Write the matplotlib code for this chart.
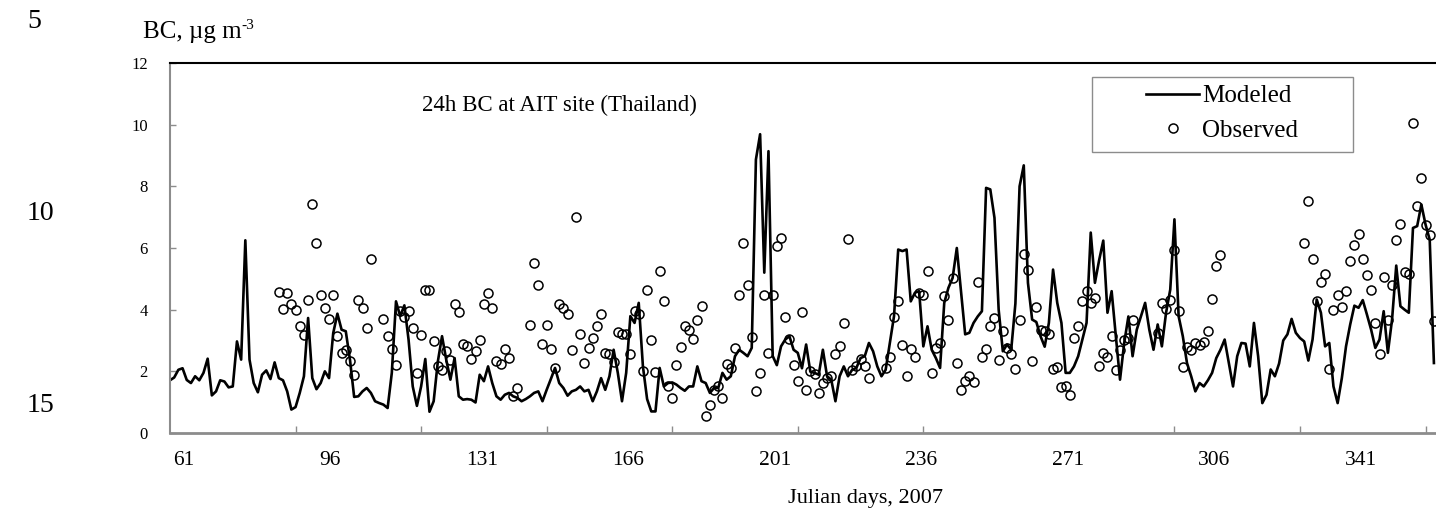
import matplotlib
matplotlib.use('Agg')
import matplotlib.pyplot as plt
from matplotlib.patches import Rectangle
from matplotlib.transforms import ScaledTranslation
import numpy as np

plt.rcParams['font.family'] = ['Liberation Serif', 'DejaVu Serif']

# modeled 24h BC, one value per Julian day starting at day 61
modeled = [
    1.71, 1.80, 2.05, 2.10, 1.72, 1.62, 1.84, 1.71, 1.95, 2.41,   # 61-70
    1.22, 1.35, 1.71, 1.67, 1.48, 1.51, 2.97, 2.38, 6.25, 2.38,   # 71-80
    1.62, 1.32, 1.89, 2.03, 1.75, 2.29, 1.78, 1.71, 1.35, 0.76,   # 81-90
    0.84, 1.30, 1.84, 3.73, 1.78, 1.42, 1.62, 2.00, 1.78, 3.24,   # 91-100
    3.87, 3.35, 3.30, 2.38, 1.17, 1.19, 1.35, 1.46, 1.30, 1.03,   # 101-110
    0.97, 0.92, 0.81, 1.95, 4.27, 3.79, 4.14, 3.03, 1.51, 0.88,   # 111-120
    1.51, 2.40, 0.69, 1.03, 2.32, 3.14, 2.38, 1.73, 2.43, 1.19,   # 121-130
    1.08, 1.10, 1.08, 0.99, 1.89, 1.68, 2.16, 1.62, 1.19, 1.08,   # 131-140
    1.24, 1.30, 1.19, 1.14, 1.03, 1.10, 1.19, 1.30, 1.35, 1.03,   # 141-150
    1.40, 1.75, 2.11, 1.62, 1.46, 1.21, 1.35, 1.40, 1.51, 1.35,   # 151-160
    1.40, 1.03, 1.35, 1.78, 1.40, 1.84, 2.70, 1.95, 1.03, 1.95,   # 161-170
    3.79, 3.57, 4.22, 2.16, 1.10, 0.70, 0.70, 2.11, 1.51, 1.62,   # 171-180
    1.64, 1.57, 1.46, 1.37, 1.51, 1.51, 2.16, 1.68, 1.62, 1.30,   # 181-190
    1.46, 1.46, 1.95, 1.73, 1.84, 2.49, 2.70, 2.60, 2.49, 2.76,   # 191-200
    8.87, 9.69, 5.20, 9.14, 2.50, 2.20, 2.81, 3.03, 3.14, 2.70,   # 201-210
    2.60, 2.10, 2.87, 1.99, 1.95, 1.89, 2.70, 1.84, 1.73, 1.03,   # 211-220
    1.84, 2.16, 1.84, 2.05, 2.11, 2.43, 2.49, 2.92, 2.65, 2.16,   # 221-230
    1.84, 2.05, 2.92, 3.79, 5.95, 5.90, 5.95, 4.27, 4.55, 4.60,   # 231-240
    2.81, 3.46, 2.70, 2.43, 2.11, 4.22, 4.71, 5.03, 6.00, 4.60,   # 241-250
    3.20, 3.25, 3.57, 3.78, 3.95, 7.95, 7.90, 6.98, 4.00, 2.65,   # 251-260
    2.87, 2.70, 4.20, 8.00, 8.68, 4.87, 3.68, 3.60, 3.14, 2.80,   # 261-270
    3.57, 5.30, 4.22, 3.57, 1.95, 1.95, 2.16, 2.49, 3.03, 3.57,   # 271-280
    6.50, 4.87, 5.60, 6.24, 3.90, 4.60, 3.14, 1.73, 2.92, 3.78,   # 281-290
    2.49, 3.35, 3.79, 4.22, 3.35, 2.70, 3.52, 2.81, 3.90, 4.65,   # 291-300
    6.93, 3.79, 3.14, 2.27, 1.84, 1.35, 1.62, 1.51, 1.71, 1.95,   # 301-310
    2.43, 2.70, 3.03, 2.27, 1.51, 2.49, 2.92, 2.90, 2.16, 3.57,   # 311-320
    2.49, 0.97, 1.24, 2.06, 1.84, 2.25, 3.00, 3.20, 3.70, 3.25,   # 321-330
    3.08, 2.97, 2.35, 3.03, 4.33, 3.90, 2.81, 2.92, 1.51, 0.97,   # 331-340
    1.78, 2.81, 3.52, 4.13, 4.06, 4.31, 3.84, 3.35, 2.76, 3.03,   # 341-350
    3.95, 2.60, 3.68, 5.43, 4.11, 4.00, 3.90, 6.65, 6.71, 7.41,   # 351-360
    6.76, 6.27, 2.27,                                             # 361-363
]

# observed 24h BC (days with measurements)
obs_days = [*range(87, 110), *range(112, 145), *range(147, 229),
            *range(232, 292), *range(297, 313), *range(332, 364)]
obs_vals = [
    # 87-109
    4.57, 4.02, 4.54, 4.19, 3.98, 3.46, 3.17, 4.30, 7.43, 6.15, 4.49, 4.06, 3.70, 4.46, 3.14, 2.60,
    2.70, 2.35, 1.89, 4.30, 4.04, 3.41, 5.63,
    # 112-144
    3.70, 3.14, 2.74, 2.20, 3.95, 3.75, 3.95, 3.41, 1.95, 3.19,
    4.65, 4.65, 2.97, 2.18, 2.03, 2.67, 2.38, 4.20, 3.93, 2.89,
    2.81, 2.41, 2.65, 3.03, 4.20, 4.54, 4.04, 2.32, 2.25, 2.74,
    2.43, 1.21, 1.46,
    # 147-228
    3.49, 5.50, 4.81, 2.89, 3.49, 2.72, 2.11, 4.20, 4.06, 3.87,
    2.68, 7.00, 3.21, 2.27, 2.76, 3.08, 3.46, 3.87, 2.60, 2.57,
    2.30, 3.28, 3.22, 3.22, 2.56, 3.95, 3.87, 2.00, 4.63, 3.01,
    1.98, 5.27, 4.27, 1.51, 1.14, 2.22, 2.79, 3.46, 3.35, 3.06,
    3.66, 4.13, 0.56, 0.92, 1.41, 1.51, 1.14, 2.25, 2.11, 2.76,
    4.46, 6.17, 4.79, 3.12, 1.37, 1.95, 4.46, 2.60, 4.47, 6.08,
    6.31, 3.77, 3.05, 2.20, 1.68, 3.92, 1.41, 2.00, 1.91, 1.30,
    1.62, 1.78, 1.86, 2.56, 2.83, 3.57, 6.30, 2.05, 2.16, 2.40,
    2.16, 1.78,
    # 232-291
    2.11, 2.45, 3.76, 4.27, 2.87, 1.84, 2.73, 2.47, 4.54, 4.49,
    5.25, 1.93, 2.76, 2.92, 4.44, 3.65, 5.03, 2.27, 1.41, 1.68,
    1.84, 1.64, 4.90, 2.47, 2.74, 3.46, 3.73, 2.38, 3.30, 2.76,
    2.56, 2.08, 3.68, 5.79, 5.30, 2.33, 4.08, 3.35, 3.30, 3.22,
    2.06, 2.13, 1.48, 1.51, 1.22, 3.08, 3.46, 4.27, 4.60, 4.22,
    4.38, 2.16, 2.60, 2.47, 3.14, 2.03, 2.70, 3.03, 3.08, 3.68,
    # 297-312
    3.25, 4.22, 4.02, 4.31, 5.93, 3.95, 2.13, 2.78, 2.68, 2.92,
    2.87, 2.94, 3.30, 4.33, 5.43, 5.77,
    # 332-363
    6.17, 7.52, 5.63, 4.27, 4.89, 5.17, 2.07, 3.98, 4.49, 4.09,
    4.60, 5.57, 6.09, 6.46, 5.63, 5.14, 4.63, 3.57, 2.57, 5.05,
    3.66, 4.81, 6.27, 6.79, 5.22, 5.17, 10.06, 7.36, 8.28, 6.74,
    6.42, 3.62,
]

label_days = [61, 96, 131, 166, 201, 236, 271, 306, 341]
mark_days = list(range(91, 362, 30))

W, H = 1436, 514
fig = plt.figure(figsize=(W / 100, H / 100), dpi=100)
ax = fig.add_axes([170 / W, 1 - 433 / H, 1266 / W, 370 / H])

days = np.arange(61, 61 + len(modeled))
ax.plot(days, modeled, color='black', lw=1.9, label='Modeled')
ax.plot(obs_days, obs_vals, ls='none', marker='o', ms=6.5, mfc='none',
        mec='black', mew=1.1, label='Observed')

ax.set_xlim(61.3, 363.5)
ax.set_ylim(0, 12)
ax.set_yticks(range(0, 13, 2))
ax.set_xticks(label_days)
ax.set_xticklabels([str(d) for d in label_days])
ax.set_xticks(mark_days, minor=True)
ax.tick_params(axis='x', which='major', length=0, pad=13, labelsize=15.5)
ax.tick_params(axis='x', which='minor', direction='in', length=5, color='#8c8c8c', width=1)
ax.tick_params(axis='y', direction='in', length=4, color='#8c8c8c', width=1, pad=16, labelsize=12)
# category labels sit just right of their day, left aligned
shift = ScaledTranslation(3 / 100, 0, fig.dpi_scale_trans)
for lbl in ax.get_xticklabels():
    lbl.set_horizontalalignment('left')
    lbl.set_transform(lbl.get_transform() + shift)

ax.spines['right'].set_visible(False)
ax.spines['top'].set_color('black')
ax.spines['top'].set_linewidth(1.5)
ax.spines['left'].set_color('#8c8c8c')
ax.spines['left'].set_linewidth(1.5)
ax.spines['bottom'].set_color('#8c8c8c')
ax.spines['bottom'].set_linewidth(2)

fig.text(422 / W, 1 - 105 / H, '24h BC at AIT site (Thailand)', fontsize=16.5,
         va='center', ha='left')

# legend: box drawn separately to match the wide frame
fig.patches.append(Rectangle((1092 / W, 1 - 152 / H), 261 / W, 75 / H, transform=fig.transFigure,
                             fill=False, edgecolor='#8c8c8c', lw=1))
ax.legend(loc='center', bbox_to_anchor=(1222 / W, 1 - 113.5 / H), bbox_transform=fig.transFigure,
          frameon=False, fontsize=18, borderpad=0, handlelength=2.12, handletextpad=0.12,
          labelspacing=0.48)

# axis titles
fig.text(865 / W, 1 - 499 / H, 'Julian days, 2007', fontsize=16, ha='center', va='center')
ylab = fig.text(143 / W, 1 - 38 / H, 'BC, \u00b5g m', fontsize=18, ha='left', va='baseline')
fig.canvas.draw()
bb = ylab.get_window_extent()
fig.text(bb.x1 / W, (H - 38 + 9) / H, '-3', fontsize=11, ha='left', va='baseline')

# manuscript line numbers
for num, ypix in [('5', 22), ('10', 213), ('15', 405)]:
    fig.text(27 / W, 1 - ypix / H, num, fontsize=20, ha='left', va='center')

fig.savefig('out.png', dpi=100)
